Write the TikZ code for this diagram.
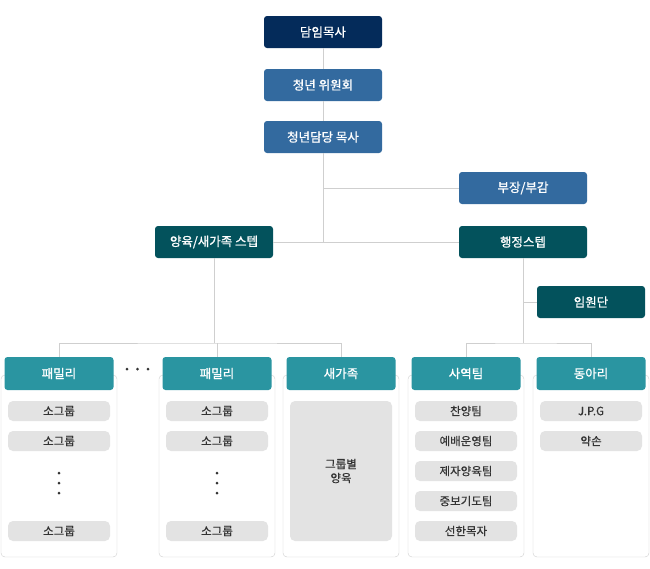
\documentclass[tikz,border=0pt]{standalone}
\usepackage{fontspec}
\setmainfont{Noto Sans CJK KR}
\newfontfamily\headfont[FakeBold=0.9]{Noto Sans CJK KR}
\newfontfamily\itemfont[FakeBold=0.4]{Noto Sans CJK KR}
\usetikzlibrary{shapes,arrows,positioning}

\definecolor{navy}{HTML}{042B5A}
\definecolor{steel}{HTML}{336A9F}
\definecolor{deepteal}{HTML}{03525C}
\definecolor{headteal}{HTML}{2A95A1}
\definecolor{itemgray}{HTML}{E3E3E3}
\definecolor{linegray}{HTML}{CFCFCF}
\definecolor{textgray}{HTML}{333333}

\begin{document}
\begin{tikzpicture}[x=1pt, y=-1pt, node distance=53pt, auto]
    % Styles
    \tikzstyle{leadbox} = [rectangle, fill=navy, text=white, rounded corners=3pt, minimum width=118pt, minimum height=32pt, font=\headfont\fontsize{12.5}{14}\selectfont]
    \tikzstyle{bluebox} = [leadbox, fill=steel]
    \tikzstyle{staffbox} = [leadbox, fill=deepteal]
    \tikzstyle{headbox} = [leadbox, fill=headteal, minimum width=109pt, minimum height=33pt]
    \tikzstyle{panel} = [rectangle, draw=linegray, fill=white, rounded corners=4pt, minimum width=116pt, minimum height=182pt]
    \tikzstyle{item} = [rectangle, fill=itemgray, text=textgray, rounded corners=5pt, minimum width=102pt, minimum height=20pt, inner sep=0pt, font=\itemfont\fontsize{11.5}{13}\selectfont]
    \tikzstyle{dot} = [circle, fill=textgray, inner sep=0pt, minimum size=3pt]
    \tikzstyle{link} = [draw=linegray, line width=1pt]

    \useasboundingbox (0,0) rectangle (650,568);

    % Nodes
    \node [leadbox] (lead) at (323,32) {담임목사};
    \node [bluebox, below of=lead] (committee) {청년 위원회};
    \node [bluebox, below of=committee, node distance=52pt] (pastor) {청년담당 목사};
    \node [bluebox, minimum width=128pt] (deputy) at (523,188) {부장/부감};
    \node [staffbox, minimum width=128pt, below of=deputy, node distance=54pt] (admin) {행정스텝};
    \node [staffbox, left of=admin, node distance=309pt] (care) {양육/새가족 스텝};
    \node [staffbox, minimum width=108pt] (officers) at (591,302) {임원단};

    % Panels
    \node [panel] (panel1) at (59,466) {};
    \node [panel, right of=panel1, node distance=158pt] (panel2) {};
    \node [panel, right of=panel2, node distance=124pt] (panel3) {};
    \node [panel, right of=panel3, node distance=125pt] (panel4) {};
    \node [panel, right of=panel4, node distance=125pt] (panel5) {};

    \node [headbox, above of=panel1, node distance=92.5pt] (fam1) {패밀리};
    \node [headbox, above of=panel2, node distance=92.5pt] (fam2) {패밀리};
    \node [headbox, above of=panel3, node distance=92.5pt] (fam3) {새가족};
    \node [headbox, above of=panel4, node distance=92.5pt] (fam4) {사역팀};
    \node [headbox, above of=panel5, node distance=92.5pt] (fam5) {동아리};

    \node [dot] (gap1) at (127,369) {};
    \node [dot, right of=gap1, node distance=10.5pt] (gap2) {};
    \node [dot, right of=gap2, node distance=10.5pt] (gap3) {};

    % Items
    \node [item, below of=fam1, node distance=37.5pt] (sg11) {소그룹};
    \node [item, below of=sg11, node distance=30pt] (sg12) {소그룹};
    \node [dot, below of=sg12, node distance=32pt] (vd11) {};
    \node [dot, below of=vd11, node distance=10pt] (vd12) {};
    \node [dot, below of=vd12, node distance=10pt] (vd13) {};
    \node [item, below of=vd13, node distance=38pt] (sg13) {소그룹};

    \node [item, below of=fam2, node distance=37.5pt] (sg21) {소그룹};
    \node [item, below of=sg21, node distance=30pt] (sg22) {소그룹};
    \node [dot, below of=sg22, node distance=32pt] (vd21) {};
    \node [dot, below of=vd21, node distance=10pt] (vd22) {};
    \node [dot, below of=vd22, node distance=10pt] (vd23) {};
    \node [item, below of=vd23, node distance=38pt] (sg23) {소그룹};

    \node [item, below of=fam3, node distance=97.5pt, minimum height=140pt, text width=102pt, align=center, font=\itemfont\fontsize{11.5}{14}\selectfont] (groups) {그룹별\\양육};

    \node [item, below of=fam4, node distance=37.5pt] (t1) {찬양팀};
    \node [item, below of=t1, node distance=30pt] (t2) {예배운영팀};
    \node [item, below of=t2, node distance=30pt] (t3) {제자양육팀};
    \node [item, below of=t3, node distance=30pt] (t4) {중보기도팀};
    \node [item, below of=t4, node distance=30pt] (t5) {선한목자};

    \node [item, below of=fam5, node distance=37.5pt] (c1) {J.P.G};
    \node [item, below of=c1, node distance=30pt] (c2) {약손};

    % Lines
    \coordinate (hub) at (pastor |- care);
    \coordinate [below of=care, node distance=101pt] (carebus);
    \coordinate [below of=admin, node distance=101pt] (adminbus);

    \draw [link] (lead) -- (committee);
    \draw [link] (committee) -- (pastor);
    \draw [link] (pastor) -- (hub);
    \draw [link] (deputy) -- (pastor |- deputy);
    \draw [link] (care) -- (admin);
    \draw [link] (care) -- (carebus);
    \draw [link] (fam1) |- (carebus) -| (fam3);
    \draw [link] (fam2) -- (fam2 |- carebus);
    \draw [link] (admin) -- (adminbus);
    \draw [link] (fam4) |- (adminbus) -| (fam5);
    \draw [link] (officers) -- (officers -| admin);
\end{tikzpicture}
\end{document}
